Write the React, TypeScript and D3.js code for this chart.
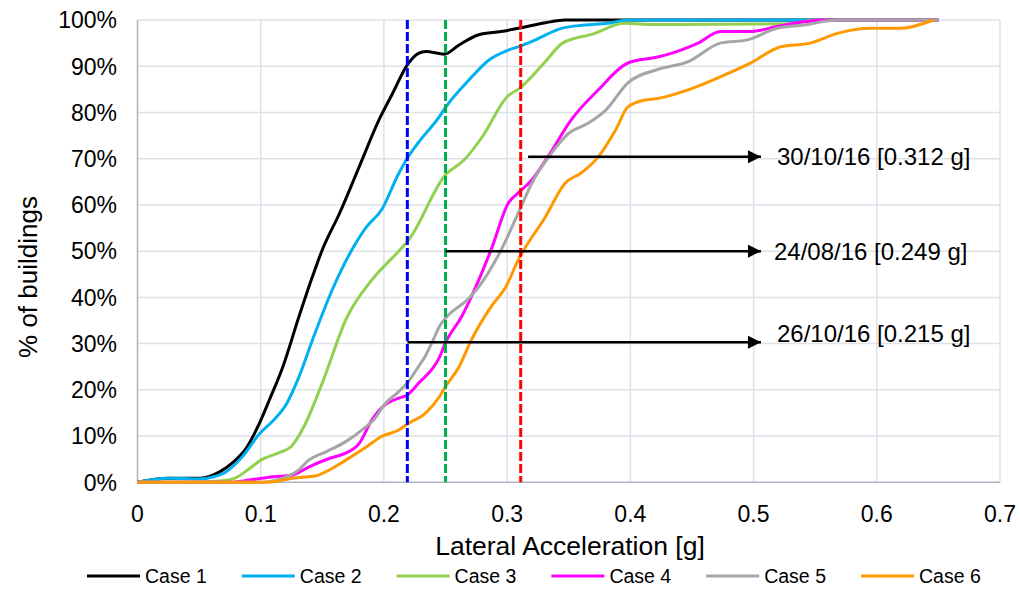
import React, { useEffect, useRef } from 'react';
import * as d3 from 'd3';

// [acceleration g, % of buildings]
const case1: [number, number][] = [
  [0, 0], [0.025, 0.9], [0.051, 0.9], [0.067, 2.3], [0.077, 4.2], [0.089, 7.7], [0.099, 12.8],
  [0.107, 17.8], [0.118, 25], [0.131, 35.8], [0.142, 44.5], [0.15, 50.3], [0.164, 58.2],
  [0.18, 68.3], [0.196, 78.4], [0.207, 84.1], [0.219, 90.3], [0.228, 92.8], [0.234, 93.2],
  [0.249, 92.6], [0.261, 94.6], [0.277, 96.8], [0.295, 97.5], [0.309, 98.2], [0.331, 99.4],
  [0.347, 100], [0.65, 100],
];
const case2: [number, number][] = [
  [0, 0], [0.025, 0.9], [0.05, 0.7], [0.062, 1.2], [0.072, 2.3], [0.085, 5.5], [0.099, 10.5],
  [0.11, 13.3], [0.121, 17], [0.131, 22.8], [0.142, 30.8], [0.158, 41.6], [0.174, 50.3],
  [0.186, 55.3], [0.198, 58.9], [0.212, 66.8], [0.219, 70.1], [0.228, 73.5], [0.245, 79.1],
  [0.25, 81.1], [0.269, 87], [0.285, 91.3], [0.301, 93.5], [0.309, 94.2], [0.323, 95.7],
  [0.344, 98.2], [0.363, 98.9], [0.382, 99.3], [0.398, 100], [0.65, 100],
];
const case3: [number, number][] = [
  [0, 0], [0.06, 0.2], [0.076, 0.6], [0.091, 3], [0.1, 4.8], [0.115, 6.4], [0.125, 7.8],
  [0.135, 12], [0.15, 21.5], [0.17, 35.7], [0.19, 43.7], [0.212, 50], [0.22, 52.4],
  [0.25, 66.5], [0.265, 69.7], [0.28, 74.8], [0.3, 83.4], [0.31, 85.2], [0.33, 90.7],
  [0.345, 95], [0.37, 97], [0.395, 99.3], [0.42, 99], [0.53, 99.2], [0.55, 100], [0.65, 100],
];
const case4: [number, number][] = [
  [0, 0], [0.075, 0], [0.091, 0.5], [0.11, 1.2], [0.126, 1.6], [0.139, 3.3], [0.156, 5.2],
  [0.169, 6.3], [0.18, 8.4], [0.19, 13.4], [0.2, 16.6], [0.212, 18.2], [0.219, 18.9],
  [0.228, 21.4], [0.245, 27], [0.25, 30.2], [0.263, 35.8], [0.277, 43.8], [0.287, 50.3],
  [0.301, 60.4], [0.309, 62.6], [0.32, 65.4], [0.333, 70.4], [0.352, 78.4], [0.374, 84.9],
  [0.398, 90.7], [0.422, 92], [0.441, 93.5], [0.455, 95], [0.473, 97.5], [0.497, 97.5],
  [0.519, 98.6], [0.541, 99.6], [0.557, 100], [0.65, 100],
];
const case5: [number, number][] = [
  [0, 0], [0.1, 0], [0.113, 0.5], [0.131, 2.7], [0.139, 4.8], [0.153, 6.6], [0.169, 8.8],
  [0.182, 11.3], [0.193, 13.9], [0.2, 16.7], [0.212, 19.6], [0.219, 21.5], [0.228, 25],
  [0.234, 27.5], [0.24, 30.8], [0.245, 33.7], [0.251, 35.8], [0.269, 39.8], [0.277, 42.3],
  [0.295, 50.2], [0.309, 58.2], [0.32, 64.7], [0.336, 71.2], [0.35, 75.5], [0.366, 77.7],
  [0.38, 80.5], [0.398, 86.4], [0.422, 89.3], [0.447, 91], [0.473, 95], [0.495, 95.7],
  [0.519, 98.2], [0.541, 98.9], [0.568, 100], [0.65, 100],
];
const case6: [number, number][] = [
  [0, 0], [0.105, 0], [0.126, 0.9], [0.145, 1.4], [0.153, 2.3], [0.169, 4.8], [0.186, 7.7],
  [0.198, 9.9], [0.212, 11.3], [0.219, 12.6], [0.234, 15], [0.245, 18.5], [0.25, 20.7],
  [0.261, 25], [0.271, 30.8], [0.287, 38], [0.299, 42.3], [0.309, 48.1], [0.331, 57.4],
  [0.347, 64.7], [0.36, 66.9], [0.374, 70.4], [0.388, 76.2], [0.398, 81.2], [0.412, 82.7],
  [0.422, 83], [0.447, 84.9], [0.473, 87.7], [0.497, 90.6], [0.522, 94.2], [0.546, 95],
  [0.568, 97.1], [0.595, 98.2], [0.619, 98.2], [0.646, 100],
];

const seriesNames = ['Case 1', 'Case 2', 'Case 3', 'Case 4', 'Case 5', 'Case 6'];
const seriesData = [case1, case2, case3, case4, case5, case6];
const seriesColors = ['#000000', '#00b0f0', '#92d050', '#ff00ff', '#a6a6a6', '#ff9900'];

const events = ['26/10/16 [0.215 g]', '24/08/16 [0.249 g]', '30/10/16 [0.312 g]'];
const eventAcc = [0.219, 0.25, 0.311];
const eventColors = ['#0000ff', '#00b050', '#ff0000'];
const arrowStart = [0.219, 0.25, 0.317];
const arrowEnd = [0.506, 0.506, 0.506];
const arrowLevel = [30.3, 50, 70.4];

const xTicks = [0, 0.1, 0.2, 0.3, 0.4, 0.5, 0.6, 0.7];
const yTicks = [0, 10, 20, 30, 40, 50, 60, 70, 80, 90, 100];

const FONT = '"Liberation Sans", Arial, sans-serif';

export default function App() {
  const ref = useRef<SVGSVGElement>(null);

  useEffect(() => {
    const svg = d3.select(ref.current);
    svg.selectAll('*').remove();

    const left = 137.5, right = 1000, top = 20, bottom = 482.3;
    const x = d3.scaleLinear().domain([0, 0.7]).range([left, right]);
    const y = d3.scaleLinear().domain([0, 100]).range([bottom, top]);

    svg.append('rect').attr('width', 1020).attr('height', 590).attr('fill', '#fff');

    // grid
    svg.append('g').selectAll('line').data(yTicks.filter((d) => d > 0)).enter().append('line')
      .attr('x1', left).attr('x2', right).attr('y1', (d) => y(d)).attr('y2', (d) => y(d))
      .attr('stroke', '#dde1e8').attr('stroke-width', 1.5);
    svg.append('g').selectAll('line').data(xTicks.filter((d) => d > 0)).enter().append('line')
      .attr('x1', (d) => x(d)).attr('x2', (d) => x(d)).attr('y1', top).attr('y2', bottom)
      .attr('stroke', '#dde1e8').attr('stroke-width', 1.5);

    // axes lines
    svg.append('line').attr('x1', left).attr('x2', left).attr('y1', top).attr('y2', bottom)
      .attr('stroke', '#adb5c4').attr('stroke-width', 1.5);
    svg.append('line').attr('x1', left).attr('x2', right).attr('y1', bottom).attr('y2', bottom)
      .attr('stroke', '#adb5c4').attr('stroke-width', 1.5);

    // tick labels
    svg.append('g').selectAll('text').data(yTicks).enter().append('text')
      .attr('x', 117).attr('y', (d) => y(d)).attr('dy', '0.36em')
      .attr('text-anchor', 'end').attr('font-family', FONT).attr('font-size', 23)
      .attr('fill', '#000').text((d) => d + '%');
    svg.append('g').selectAll('text').data(xTicks).enter().append('text')
      .attr('x', (d) => x(d)).attr('y', 522)
      .attr('text-anchor', 'middle').attr('font-family', FONT).attr('font-size', 23)
      .attr('fill', '#000').text((d) => String(d));

    // axis titles
    svg.append('text').attr('x', 570).attr('y', 555)
      .attr('text-anchor', 'middle').attr('font-family', FONT).attr('font-size', 26.5)
      .text('Lateral Acceleration [g]');
    svg.append('text').attr('transform', 'translate(37,' + 277 + ') rotate(-90)')
      .attr('text-anchor', 'middle').attr('font-family', FONT).attr('font-size', 26)
      .text('% of buildings');

    // series
    const line = d3.line<[number, number]>()
      .x((d) => x(d[0])).y((d) => y(d[1]))
      .curve(d3.curveMonotoneX);
    seriesData.forEach((data, i) => {
      svg.append('path').datum(data).attr('d', line)
        .attr('fill', 'none').attr('stroke', seriesColors[i]).attr('stroke-width', 3)
        .attr('stroke-linejoin', 'round');
    });

    // event dashed lines
    eventAcc.forEach((a, i) => {
      svg.append('line').attr('x1', x(a)).attr('x2', x(a)).attr('y1', top).attr('y2', bottom)
        .attr('stroke', eventColors[i]).attr('stroke-width', 3).attr('stroke-dasharray', '9,3');
    });

    // arrows
    svg.append('defs').append('marker').attr('id', 'arrowhead')
      .attr('viewBox', '0 0 10 10').attr('refX', 10).attr('refY', 5)
      .attr('markerUnits', 'userSpaceOnUse').attr('markerWidth', 15).attr('markerHeight', 13)
      .attr('orient', 'auto')
      .append('path').attr('d', 'M0,0 L10,5 L0,10 Z').attr('fill', '#000');
    events.forEach((label, i) => {
      svg.append('line').attr('x1', x(arrowStart[i])).attr('x2', x(arrowEnd[i]))
        .attr('y1', y(arrowLevel[i])).attr('y2', y(arrowLevel[i]))
        .attr('stroke', '#000').attr('stroke-width', 2.5).attr('marker-end', 'url(#arrowhead)');
      svg.append('text').attr('x', x(arrowEnd[i]) + (i === 1 ? 13 : 16))
        .attr('y', y(arrowLevel[i]) + (i === 0 ? -9 : 0)).attr('dy', '0.36em')
        .attr('font-family', FONT).attr('font-size', 24).text(label);
    });

    // legend
    const lg = svg.append('g');
    seriesNames.forEach((name, i) => {
      const lx = 87 + i * 154.8;
      lg.append('line').attr('x1', lx).attr('x2', lx + 53).attr('y1', 576).attr('y2', 576)
        .attr('stroke', seriesColors[i]).attr('stroke-width', 3);
      lg.append('text').attr('x', lx + 58).attr('y', 576).attr('dy', '0.36em')
        .attr('font-family', FONT).attr('font-size', 19.5).text(name);
    });
  }, []);

  return (
    <svg ref={ref} width={1020} height={590}
      style={{ position: 'absolute', left: 0, top: 0, background: '#fff' }} />
  );
}
